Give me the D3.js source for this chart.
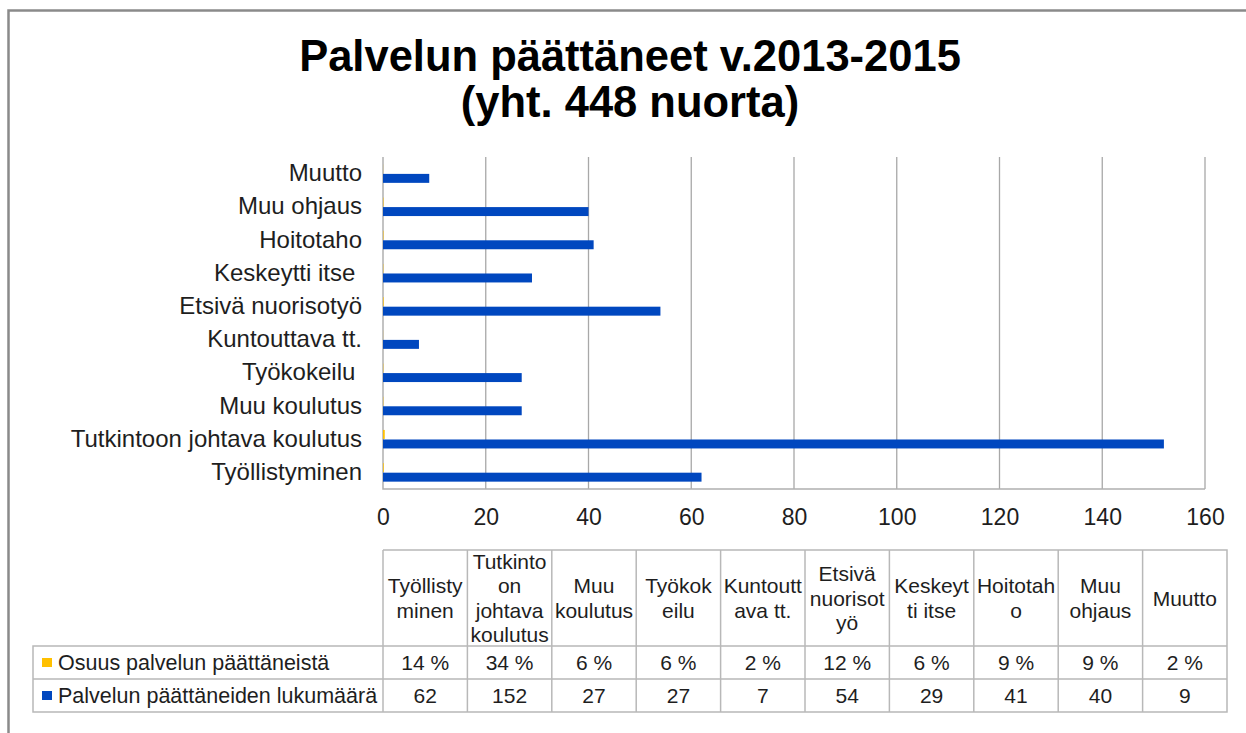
<!DOCTYPE html>
<html>
<head>
<meta charset="utf-8">
<script src="https://cdn.jsdelivr.net/npm/d3@7/dist/d3.min.js"></script>
<style>
  html, body { margin: 0; padding: 0; background: #fff; }
  svg { display: block; font-family: "Liberation Sans", Arial, sans-serif; }
</style>
</head>
<body>
<svg id="chart" width="1246" height="733"></svg>
<script>
// ---- data ----
const categories = ["Työllistyminen", "Tutkintoon johtava koulutus", "Muu koulutus", "Työkokeilu ",
  "Kuntouttava tt.", "Etsivä nuorisotyö", "Keskeytti itse ", "Hoitotaho", "Muu ohjaus", "Muutto"];
const tableHeaders = [["Työllisty", "minen"], ["Tutkinto", "on", "johtava", "koulutus"], ["Muu", "koulutus"],
  ["Työkok", "eilu"], ["Kuntoutt", "ava tt."], ["Etsivä", "nuorisot", "yö"], ["Keskeyt", "ti itse"],
  ["Hoitotah", "o"], ["Muu", "ohjaus"], ["Muutto"]];
const shareValues = [0.14, 0.34, 0.06, 0.06, 0.02, 0.12, 0.06, 0.09, 0.09, 0.02];
const shareLabels = ["14 %", "34 %", "6 %", "6 %", "2 %", "12 %", "6 %", "9 %", "9 %", "2 %"];
const countValues = [62, 152, 27, 27, 7, 54, 29, 41, 40, 9];
const seriesNames = ["Osuus palvelun päättäneistä", "Palvelun päättäneiden lukumäärä"];
const seriesColors = ["#FFC000", "#0047BF"];
const xTicks = [0, 20, 40, 60, 80, 100, 120, 140, 160];
const titleLines = ["Palvelun päättäneet v.2013-2015", "(yht. 448 nuorta)"];

// ---- layout ----
const svg = d3.select("#chart");
const plotLeft = 383, plotRight = 1205, plotTop = 157, plotBottom = 489;
const textColor = "#1e1e1e";

// frame
svg.append("path").attr("d", "M8.5,733 L8.5,10.5 L1246,10.5")
  .attr("fill", "none").attr("stroke", "#8a8a8a").attr("stroke-width", 2.5);

// title
svg.selectAll("text.title").data(titleLines).join("text")
  .attr("class", "title")
  .attr("x", 630).attr("y", (d, i) => 71 + i * 46)
  .attr("text-anchor", "middle")
  .attr("font-weight", "bold").attr("font-size", 43.5)
  .attr("fill", "#000").text(d => d);

// scales
const x = d3.scaleLinear().domain([0, 160]).range([plotLeft, plotRight]);
const y = d3.scaleBand().domain(categories.slice().reverse()).range([plotTop, plotBottom]);
const ySub = d3.scaleBand().domain([0, 1]).range([0, y.bandwidth()]).paddingInner(0.06).paddingOuter(0.77);

// gridlines
svg.append("g").selectAll("line").data(xTicks.filter(t => t > 0)).join("line")
  .attr("x1", d => x(d)).attr("x2", d => x(d))
  .attr("y1", plotTop).attr("y2", plotBottom)
  .attr("stroke", "#a8a8a8").attr("stroke-width", 1.3);

// axis lines
svg.append("path")
  .attr("d", `M${plotLeft},${plotTop} L${plotLeft},${plotBottom} L${plotRight},${plotBottom}`)
  .attr("fill", "none").attr("stroke", "#b0b0b0").attr("stroke-width", 1.5);

// x axis labels
const xAxis = d3.axisBottom(x).tickValues(xTicks).tickSize(0).tickPadding(20).tickFormat(d3.format("d"));
const gx = svg.append("g").attr("transform", `translate(0,${plotBottom})`).call(xAxis);
gx.select(".domain").remove();
gx.selectAll("text").attr("font-size", 23).attr("fill", textColor)
  .attr("font-family", "'Liberation Sans', Arial, sans-serif");

// y axis labels
const yAxis = d3.axisLeft(y).tickSize(0).tickPadding(plotLeft - 362);
const gy = svg.append("g").attr("transform", `translate(${plotLeft},0)`).call(yAxis);
gy.select(".domain").remove();
gy.selectAll("text").attr("font-size", 24).attr("fill", textColor)
  .attr("font-family", "'Liberation Sans', Arial, sans-serif")
  .style("white-space", "pre");

// bars
const seriesData = [shareValues, countValues];
seriesData.forEach((vals, si) => {
  svg.append("g").selectAll("rect").data(vals).join("rect")
    .attr("x", x(0))
    .attr("y", (d, i) => y(categories[i]) + ySub(si))
    .attr("width", d => x(d) - x(0))
    .attr("height", ySub.bandwidth())
    .attr("fill", seriesColors[si]);
});

// ---- data table ----
const tableTop = 550, headBottom = 646, row1Bottom = 679, tableBottom = 712;
const legendLeft = 33;
const colX = d3.scaleBand().domain(d3.range(categories.length)).range([plotLeft, 1227]);
const tcol = "#b8b8b8";
const tg = svg.append("g").attr("stroke", tcol).attr("stroke-width", 1.5).attr("fill", "none");

tg.append("path").attr("d",
  `M${plotLeft},${tableTop} L1227,${tableTop} L1227,${tableBottom} L${legendLeft},${tableBottom} L${legendLeft},${headBottom} L1227,${headBottom}` +
  ` M${legendLeft},${row1Bottom} L1227,${row1Bottom}`);
tg.selectAll("line").data(d3.range(categories.length)).join("line")
  .attr("x1", i => colX(i)).attr("x2", i => colX(i))
  .attr("y1", tableTop).attr("y2", tableBottom);

// header text
const headCenter = (tableTop + headBottom) / 2;
const lineH = 24.6;
tableHeaders.forEach((lines, i) => {
  const cx = colX(i) + colX.bandwidth() / 2;
  const t = svg.append("text").attr("text-anchor", "middle").attr("font-size", 21).attr("fill", textColor);
  lines.forEach((ln, j) => {
    t.append("tspan").attr("x", cx)
      .attr("y", headCenter + (j - (lines.length - 1) / 2) * lineH + 7.5)
      .text(ln);
  });
});

// row values and legend keys
const rows = [shareLabels, countValues.map(String)];
const rowCenters = [(headBottom + row1Bottom) / 2, (row1Bottom + tableBottom) / 2];
rows.forEach((vals, ri) => {
  svg.append("g").selectAll("text").data(vals).join("text")
    .attr("x", (d, i) => colX(i) + colX.bandwidth() / 2)
    .attr("y", rowCenters[ri] + 7.5)
    .attr("text-anchor", "middle").attr("font-size", 21).attr("fill", textColor)
    .text(d => d);
  svg.append("rect").attr("x", 42).attr("y", rowCenters[ri] - 4.5).attr("width", 10).attr("height", 9)
    .attr("fill", seriesColors[ri]);
  svg.append("text").attr("x", 58).attr("y", rowCenters[ri] + 7.5)
    .attr("font-size", 21.5).attr("fill", textColor).text(seriesNames[ri]);
});
</script>
</body>
</html>
